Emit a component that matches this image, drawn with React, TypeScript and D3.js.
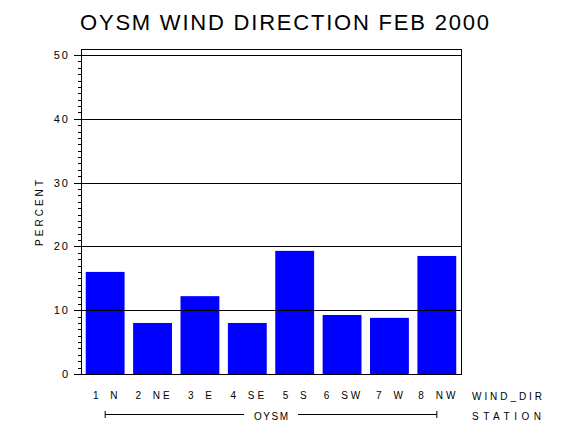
import React from "react";
import * as d3 from "d3";

const title = "OYSM WIND DIRECTION FEB 2000";
const categories = ["1 N", "2 NE", "3 E", "4 SE", "5 S", "6 SW", "7 W", "8 NW"];
const percents = [16.0, 8.0, 12.2, 8.0, 19.3, 9.25, 8.8, 18.5];
const yTicks = [0, 10, 20, 30, 40, 50];
const yLabel = "PERCENT";
const xLabel = "WIND_DIR";
const groupLabel = "OYSM";
const groupAxisLabel = "STATION";

const W = 570;
const H = 430;
const left = 81;
const right = 461;
const bottom = 374;
const top = 49;

export default function App() {
  const x = d3
    .scaleBand<string>()
    .domain(categories)
    .range([left, right])
    .paddingInner(0.18)
    .paddingOuter(0.1);
  const y = d3.scaleLinear().domain([0, 50]).range([bottom, 55]);
  const minor = d3.range(0, 51, 1);
  const font = "'Liberation Sans', Arial, sans-serif";
  const bx0 = x(categories[0])! + x.bandwidth() / 2;
  const bx1 = x(categories[categories.length - 1])! + x.bandwidth() / 2;
  const bmid = (bx0 + bx1) / 2;
  const rowY = 414;

  return (
    <svg
      width={W}
      height={H}
      style={{ position: "fixed", left: 0, top: 0, background: "#fff" }}
      fontFamily={font}
    >
      <rect x={0} y={0} width={W} height={H} fill="#fff" />
      <text x={80} y={29.5} fontSize={22} textLength={409} lengthAdjust="spacing" fill="#000">
        {title}
      </text>
      {categories.map((c, i) => (
        <rect
          key={c}
          x={x(c)}
          y={y(percents[i])}
          width={x.bandwidth()}
          height={y(0) - y(percents[i])}
          fill="#0000ff"
        />
      ))}
      {yTicks
        .filter((t) => t > 0)
        .map((t) => (
          <line
            key={"g" + t}
            x1={left}
            x2={right}
            y1={Math.round(y(t)) + 0.5}
            y2={Math.round(y(t)) + 0.5}
            stroke="#000"
            strokeWidth={1}
          />
        ))}
      <rect
        x={left + 0.5}
        y={top + 0.5}
        width={right - left}
        height={bottom - top}
        fill="none"
        stroke="#000"
        strokeWidth={1}
      />
      {minor.map((t) => (
        <line
          key={"m" + t}
          x1={left - (t % 10 === 0 ? 7 : 3)}
          x2={left}
          y1={Math.round(y(t)) + 0.5}
          y2={Math.round(y(t)) + 0.5}
          stroke="#000"
          strokeWidth={1}
        />
      ))}
      {yTicks.map((t) => (
        <text
          key={"l" + t}
          x={70}
          y={y(t) + 4}
          fontSize={11}
          letterSpacing={2}
          textAnchor="end"
          fill="#000"
        >
          {t}
        </text>
      ))}
      <text
        transform={`translate(42.5,213) rotate(-90)`}
        fontSize={10}
        textAnchor="middle"
        textLength={66}
        lengthAdjust="spacing"
        fill="#000"
      >
        {yLabel}
      </text>
      {categories.map((c) => (
        <text
          key={"x" + c}
          x={x(c)! + x.bandwidth() / 2 + 1.5}
          y={399}
          fontSize={10}
          letterSpacing={3}
          wordSpacing={3}
          textAnchor="middle"
          fill="#000"
        >
          {c}
        </text>
      ))}
      <text x={472} y={399.5} fontSize={10} textLength={70} lengthAdjust="spacing" fill="#000">
        {xLabel}
      </text>
      <text x={472} y={420} fontSize={10} textLength={69} lengthAdjust="spacing" fill="#000">
        {groupAxisLabel}
      </text>
      <line x1={bx0} x2={bmid - 27} y1={rowY + 0.5} y2={rowY + 0.5} stroke="#000" />
      <line x1={bmid + 27} x2={bx1} y1={rowY + 0.5} y2={rowY + 0.5} stroke="#000" />
      <line x1={bx0} x2={bx0} y1={rowY - 3} y2={rowY + 4} stroke="#000" />
      <line x1={bx1} x2={bx1} y1={rowY - 3} y2={rowY + 4} stroke="#000" />
      <text
        x={bmid - 17}
        y={419.5}
        fontSize={10}
        textLength={34}
        lengthAdjust="spacing"
        fill="#000"
      >
        {groupLabel}
      </text>
    </svg>
  );
}
